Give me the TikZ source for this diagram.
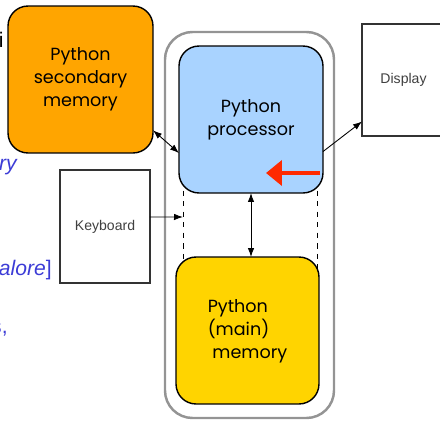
\documentclass[tikz,border=0pt]{standalone}
\usepackage{fontspec}
\usepackage{xcolor}
\usetikzlibrary{arrows.meta,shadows,backgrounds}
\newfontfamily\boxfont{Poppins}
\newfontfamily\labfont{Liberation Sans}
\definecolor{secorange}{HTML}{FFA500}
\definecolor{procblue}{HTML}{A9D3FF}
\definecolor{memgold}{HTML}{FFD400}
\definecolor{slideblue}{HTML}{3C3CD6}
\definecolor{arrowred}{HTML}{FF2A00}
\tikzstyle{unit}=[draw=black, line width=0.8pt, rounded corners=0.4cm, inner sep=0pt, outer sep=0pt, font=\boxfont\fontsize{10}{13}\selectfont, align=center]
\tikzstyle{device}=[draw=black!80, fill=white, line width=0.6pt, inner sep=0pt, outer sep=0pt, font=\labfont\fontsize{8}{10}\selectfont, text=black!75, drop shadow={shadow xshift=0.8pt, shadow yshift=-0.8pt, opacity=0.35}]
\tikzstyle{frag}=[inner sep=0pt, anchor=base east, font=\labfont\fontsize{12}{14}\selectfont]
\tikzstyle{link}=[line width=0.5pt, -{Latex[length=1.8mm,width=1.3mm]}]
\tikzstyle{dlink}=[line width=0.5pt, {Latex[length=1.8mm,width=1.3mm]}-{Latex[length=1.8mm,width=1.3mm]}]

\begin{document}
\begin{tikzpicture}[x=0.02cm, y=-0.02cm]
\useasboundingbox (0,0) rectangle (440,420);
\draw[draw=black!42, line width=1.4pt, rounded corners=0.55cm] (165,32) rectangle (334,418);

\node[frag] (fi) at (4,47) {i};
\node[frag, text=slideblue] (fry) at (17,170) {\itshape ry};
\node[frag, text=slideblue] (falore) at (52,275) {{\itshape alore}]};
\node[frag, text=slideblue] (fs) at (8,333) {s,};

\node[unit, fill=secorange, minimum width=2.9cm, minimum height=2.94cm] (sec) at (80.5,79.5) {Python\\secondary\\memory};
\node[unit, fill=procblue, minimum width=2.88cm, minimum height=2.94cm] (proc) at (251,119.5) {Python\\processor};
\node[unit, fill=memgold, minimum width=2.86cm, minimum height=2.94cm] (mem) at (247.5,330.5) {\begin{tabular}{@{}l@{}}Python\\(main)\\\ memory\end{tabular}};
\node[device, minimum width=1.8cm, minimum height=2.26cm] (kbd) at (105,226.5) {Keyboard};
\node[device, minimum width=1.66cm, minimum height=2.24cm] (disp) at (403.5,80) {Display};

\begin{scope}[on background layer]
\foreach \x in {183,317} {
	\draw[dashed, line width=0.5pt] (\x,180) -- (\x,275);
}
\end{scope}

\coordinate (kin) at (183,217);
\coordinate (redtail) at (320,173);
\coordinate (redtip) at (266,173);

\draw[dlink] (sec.-35) -- (proc.205);
\draw[link] (kbd.12) -- (kin);
\draw[link] (proc.-24) -- (disp.225);
\draw[dlink] (proc.south) -- (proc.south |- mem.north);
\draw[arrowred, line width=2.3pt, -{Triangle[length=0.32cm,width=0.5cm]}] (redtail) -- (redtip);
\end{tikzpicture}
\end{document}
